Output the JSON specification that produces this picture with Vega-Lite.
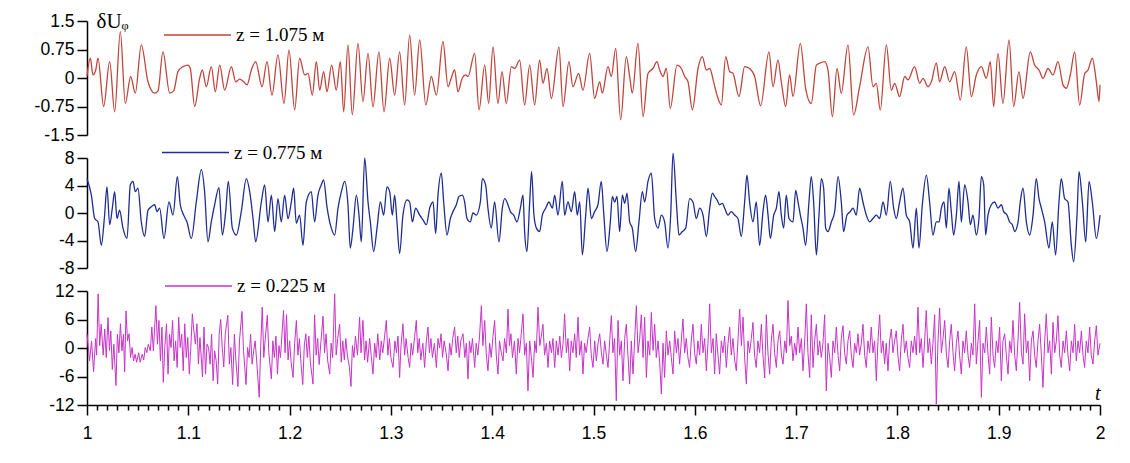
{
  "$schema": "https://vega.github.io/schema/vega-lite/v6.json",
  "padding": {"left": 34, "top": 0, "right": 10, "bottom": 5},
  "spacing": 23,
  "bounds": "flush",
  "datasets": {
    "red": [
      {"t":1.0,"v":0.05},{"t":1.0033,"v":0.52},{"t":1.0059,"v":0.08},{"t":1.0086,"v":0.21},{"t":1.0109,"v":0.52},{"t":1.0164,"v":-0.75},{"t":1.0224,"v":0.43},{"t":1.0273,"v":-0.89},{"t":1.0329,"v":1.22},{"t":1.0378,"v":-0.67},
      {"t":1.0431,"v":0.04},{"t":1.0477,"v":-0.4},{"t":1.0536,"v":0.87},{"t":1.0602,"v":-0.1},{"t":1.0668,"v":-0.4},{"t":1.0701,"v":-0.34},{"t":1.075,"v":0.69},{"t":1.0816,"v":-0.4},{"t":1.0856,"v":-0.34},{"t":1.0898,"v":0.17},
      {"t":1.0948,"v":0.3},{"t":1.0997,"v":0.34},{"t":1.102,"v":0.25},{"t":1.1063,"v":-0.75},{"t":1.1112,"v":-0.01},{"t":1.1138,"v":0.21},{"t":1.1178,"v":-0.23},{"t":1.1227,"v":0.3},{"t":1.1267,"v":-0.36},{"t":1.131,"v":0.34},
      {"t":1.1359,"v":-0.32},{"t":1.1425,"v":0.3},{"t":1.1468,"v":-0.1},{"t":1.1507,"v":-0.03},{"t":1.1547,"v":-0.1},{"t":1.158,"v":-0.18},{"t":1.1622,"v":0.21},{"t":1.1665,"v":0.43},{"t":1.1728,"v":-0.23},{"t":1.1777,"v":0.43},
      {"t":1.1826,"v":-0.45},{"t":1.1885,"v":0.61},{"t":1.1945,"v":-0.67},{"t":1.1994,"v":0.74},{"t":1.205,"v":-0.84},{"t":1.2099,"v":0.52},{"t":1.2149,"v":0.08},{"t":1.2182,"v":0.12},{"t":1.2224,"v":-0.45},{"t":1.2264,"v":0.43},
      {"t":1.2297,"v":-0.32},{"t":1.2336,"v":0.17},{"t":1.2369,"v":-0.36},{"t":1.2415,"v":0.34},{"t":1.2461,"v":-0.32},{"t":1.2501,"v":0.43},{"t":1.2534,"v":-0.89},{"t":1.2576,"v":0.87},{"t":1.2619,"v":-0.97},{"t":1.2675,"v":0.91},
      {"t":1.2724,"v":-0.62},{"t":1.2774,"v":0.65},{"t":1.2823,"v":-0.76},{"t":1.2882,"v":0.69},{"t":1.2932,"v":-0.89},{"t":1.2988,"v":0.52},{"t":1.3037,"v":-0.45},{"t":1.3086,"v":0.69},{"t":1.3136,"v":-0.71},{"t":1.3185,"v":1.13},
      {"t":1.3234,"v":-0.45},{"t":1.3284,"v":1.0},{"t":1.3345,"v":-0.71},{"t":1.3399,"v":0.04},{"t":1.3449,"v":-0.45},{"t":1.3514,"v":0.96},{"t":1.3564,"v":-0.23},{"t":1.3596,"v":0.0},{"t":1.3629,"v":0.21},{"t":1.3662,"v":-0.36},
      {"t":1.3705,"v":0.0},{"t":1.3738,"v":0.08},{"t":1.3761,"v":0.04},{"t":1.3827,"v":0.65},{"t":1.387,"v":-0.84},{"t":1.3926,"v":0.34},{"t":1.3965,"v":-0.67},{"t":1.4008,"v":0.82},{"t":1.4057,"v":-0.67},{"t":1.4097,"v":0.17},
      {"t":1.4139,"v":-0.67},{"t":1.4189,"v":0.3},{"t":1.4222,"v":0.25},{"t":1.4271,"v":0.47},{"t":1.432,"v":-0.71},{"t":1.437,"v":0.34},{"t":1.4419,"v":-0.71},{"t":1.4468,"v":0.47},{"t":1.4501,"v":-0.14},{"t":1.4541,"v":0.25},
      {"t":1.4584,"v":-0.54},{"t":1.4659,"v":0.82},{"t":1.4699,"v":-0.75},{"t":1.4758,"v":0.43},{"t":1.4797,"v":-0.23},{"t":1.4853,"v":0.12},{"t":1.4896,"v":-0.32},{"t":1.4962,"v":0.65},{"t":1.5011,"v":-0.54},{"t":1.5061,"v":-0.1},
      {"t":1.5087,"v":-0.4},{"t":1.5143,"v":0.3},{"t":1.5176,"v":0.04},{"t":1.5219,"v":0.78},{"t":1.5268,"v":-1.1},{"t":1.5324,"v":0.56},{"t":1.5357,"v":0.04},{"t":1.5383,"v":-0.4},{"t":1.5439,"v":0.91},{"t":1.5489,"v":-1.02},
      {"t":1.5538,"v":0.12},{"t":1.5587,"v":0.25},{"t":1.5627,"v":0.43},{"t":1.5653,"v":0.21},{"t":1.5686,"v":0.04},{"t":1.5719,"v":0.25},{"t":1.5758,"v":-0.8},{"t":1.5824,"v":0.34},{"t":1.5867,"v":0.25},{"t":1.59,"v":0.04},
      {"t":1.5933,"v":-0.1},{"t":1.5976,"v":-0.84},{"t":1.6032,"v":0.25},{"t":1.6074,"v":0.56},{"t":1.6114,"v":0.21},{"t":1.6147,"v":0.25},{"t":1.6186,"v":-0.1},{"t":1.6219,"v":-0.45},{"t":1.6262,"v":-0.71},{"t":1.6305,"v":0.56},
      {"t":1.6344,"v":0.17},{"t":1.6377,"v":0.12},{"t":1.6436,"v":-0.49},{"t":1.6492,"v":0.3},{"t":1.6541,"v":0.25},{"t":1.6591,"v":0.04},{"t":1.665,"v":-0.73},{"t":1.6732,"v":0.69},{"t":1.6772,"v":-0.23},{"t":1.6821,"v":0.47},
      {"t":1.6854,"v":-0.1},{"t":1.6897,"v":-0.75},{"t":1.6936,"v":0.08},{"t":1.6969,"v":-0.49},{"t":1.7042,"v":0.91},{"t":1.7094,"v":-0.27},{"t":1.715,"v":-0.67},{"t":1.72,"v":0.34},{"t":1.7233,"v":0.39},{"t":1.7282,"v":0.43},
      {"t":1.7315,"v":0.21},{"t":1.7358,"v":-1.02},{"t":1.7404,"v":0.25},{"t":1.7446,"v":-0.4},{"t":1.7512,"v":0.87},{"t":1.7568,"v":-0.97},{"t":1.7627,"v":-0.23},{"t":1.771,"v":0.82},{"t":1.7759,"v":-0.23},{"t":1.7792,"v":-0.14},
      {"t":1.7831,"v":-0.84},{"t":1.7891,"v":0.87},{"t":1.794,"v":-0.32},{"t":1.7973,"v":-0.14},{"t":1.8022,"v":-0.49},{"t":1.8072,"v":0.04},{"t":1.8104,"v":-0.05},{"t":1.817,"v":0.3},{"t":1.822,"v":-0.14},{"t":1.8253,"v":-0.01},
      {"t":1.8302,"v":-0.23},{"t":1.8335,"v":-0.1},{"t":1.8384,"v":0.4},{"t":1.8417,"v":-0.1},{"t":1.8467,"v":0.3},{"t":1.8516,"v":-0.1},{"t":1.8565,"v":0.17},{"t":1.8621,"v":-0.58},{"t":1.868,"v":0.82},{"t":1.873,"v":-0.49},
      {"t":1.8779,"v":0.08},{"t":1.8829,"v":0.3},{"t":1.8878,"v":-0.01},{"t":1.8917,"v":0.43},{"t":1.895,"v":-0.75},{"t":1.8993,"v":0.65},{"t":1.9042,"v":-0.67},{"t":1.9102,"v":1.0},{"t":1.9148,"v":-0.75},{"t":1.92,"v":0.17},
      {"t":1.924,"v":-0.54},{"t":1.9312,"v":0.69},{"t":1.9355,"v":0.34},{"t":1.9398,"v":0.21},{"t":1.9437,"v":-0.01},{"t":1.9487,"v":0.25},{"t":1.9536,"v":0.08},{"t":1.9585,"v":0.43},{"t":1.9635,"v":-0.18},{"t":1.9668,"v":-0.27},
      {"t":1.9707,"v":0.08},{"t":1.975,"v":0.69},{"t":1.9799,"v":-0.71},{"t":1.9849,"v":0.12},{"t":1.9882,"v":0.21},{"t":1.9924,"v":0.52},{"t":1.9964,"v":-0.1},{"t":1.999,"v":-0.62},{"t":2.0,"v":-0.18}
    ],
    "blue": [
      {"t":1.0,"v":5.0},{"t":1.0043,"v":2.6},{"t":1.0076,"v":-0.8},{"t":1.0109,"v":-1.3},{"t":1.0141,"v":-4.7},{"t":1.0174,"v":-0.3},{"t":1.0197,"v":3.8},{"t":1.0224,"v":-1.7},{"t":1.025,"v":0.7},{"t":1.0273,"v":3.1},
      {"t":1.0296,"v":-0.8},{"t":1.0322,"v":0.4},{"t":1.0355,"v":-2.2},{"t":1.0395,"v":-3.7},{"t":1.0428,"v":4.1},{"t":1.0454,"v":4.6},{"t":1.0477,"v":3.1},{"t":1.0503,"v":3.6},{"t":1.0536,"v":-1.3},{"t":1.0569,"v":-3.4},
      {"t":1.0602,"v":0.4},{"t":1.0635,"v":0.9},{"t":1.0668,"v":1.2},{"t":1.0691,"v":0.2},{"t":1.0717,"v":0.7},{"t":1.076,"v":-3.7},{"t":1.0809,"v":1.6},{"t":1.0849,"v":-0.3},{"t":1.0892,"v":5.3},{"t":1.0921,"v":1.2},
      {"t":1.0954,"v":-0.3},{"t":1.0987,"v":-1.3},{"t":1.103,"v":-3.7},{"t":1.1079,"v":1.6},{"t":1.1129,"v":6.3},{"t":1.1161,"v":3.1},{"t":1.1194,"v":-4.2},{"t":1.1227,"v":-1.3},{"t":1.126,"v":1.2},{"t":1.1303,"v":3.7},
      {"t":1.1336,"v":-3.2},{"t":1.1369,"v":0.2},{"t":1.1395,"v":4.6},{"t":1.1435,"v":-2.2},{"t":1.1474,"v":-3.2},{"t":1.1523,"v":0.2},{"t":1.1573,"v":5.0},{"t":1.1606,"v":3.1},{"t":1.1639,"v":-0.8},{"t":1.1665,"v":-4.2},
      {"t":1.1721,"v":1.6},{"t":1.1754,"v":4.1},{"t":1.1787,"v":-1.3},{"t":1.182,"v":2.6},{"t":1.1853,"v":-2.7},{"t":1.1885,"v":2.1},{"t":1.1918,"v":-1.3},{"t":1.1951,"v":2.6},{"t":1.1984,"v":-0.8},{"t":1.2017,"v":1.6},
      {"t":1.204,"v":3.6},{"t":1.2066,"v":-1.5},{"t":1.2099,"v":-0.3},{"t":1.2132,"v":-4.7},{"t":1.2165,"v":1.6},{"t":1.2214,"v":3.1},{"t":1.2247,"v":-1.3},{"t":1.228,"v":2.6},{"t":1.2313,"v":4.1},{"t":1.2336,"v":4.8},
      {"t":1.2369,"v":0.9},{"t":1.2412,"v":-2.2},{"t":1.2445,"v":-3.2},{"t":1.2478,"v":0.7},{"t":1.2511,"v":3.1},{"t":1.2544,"v":4.6},{"t":1.2576,"v":1.2},{"t":1.2599,"v":-5.1},{"t":1.2626,"v":-2.2},{"t":1.2659,"v":2.6},
      {"t":1.2685,"v":-0.3},{"t":1.2708,"v":-4.2},{"t":1.2741,"v":8.0},{"t":1.2774,"v":1.6},{"t":1.2797,"v":-1.3},{"t":1.283,"v":-5.6},{"t":1.2863,"v":-2.2},{"t":1.2896,"v":1.6},{"t":1.2929,"v":-0.3},{"t":1.2961,"v":3.8},
      {"t":1.2988,"v":3.1},{"t":1.3014,"v":-0.3},{"t":1.3037,"v":2.6},{"t":1.306,"v":-1.3},{"t":1.3086,"v":-5.9},{"t":1.3119,"v":-0.3},{"t":1.3159,"v":1.9},{"t":1.3185,"v":1.6},{"t":1.3212,"v":-1.3},{"t":1.3244,"v":0.7},
      {"t":1.3284,"v":-0.3},{"t":1.3317,"v":-1.0},{"t":1.335,"v":-1.7},{"t":1.3383,"v":0.7},{"t":1.3416,"v":1.6},{"t":1.3442,"v":-3.0},{"t":1.3465,"v":2.6},{"t":1.3498,"v":5.8},{"t":1.3521,"v":1.6},{"t":1.3554,"v":-3.2},
      {"t":1.3587,"v":-0.8},{"t":1.3613,"v":0.2},{"t":1.3646,"v":1.2},{"t":1.3672,"v":2.4},{"t":1.3705,"v":2.6},{"t":1.3728,"v":1.6},{"t":1.3751,"v":-0.8},{"t":1.3784,"v":-1.3},{"t":1.381,"v":0.0},{"t":1.3843,"v":-0.3},
      {"t":1.3883,"v":1.6},{"t":1.3903,"v":5.0},{"t":1.3935,"v":4.1},{"t":1.3958,"v":0.7},{"t":1.3991,"v":-2.2},{"t":1.4024,"v":1.6},{"t":1.4067,"v":-4.2},{"t":1.41,"v":0.7},{"t":1.4123,"v":2.1},{"t":1.4156,"v":1.2},
      {"t":1.4179,"v":0.2},{"t":1.4212,"v":-0.3},{"t":1.4245,"v":-1.3},{"t":1.4278,"v":0.7},{"t":1.4304,"v":2.6},{"t":1.432,"v":-2.7},{"t":1.4343,"v":-5.6},{"t":1.437,"v":1.6},{"t":1.4389,"v":6.0},{"t":1.4412,"v":-0.3},
      {"t":1.4436,"v":-2.2},{"t":1.4468,"v":-2.7},{"t":1.4495,"v":-0.3},{"t":1.4528,"v":0.7},{"t":1.4561,"v":1.6},{"t":1.4594,"v":0.7},{"t":1.4617,"v":2.6},{"t":1.4649,"v":-0.3},{"t":1.4692,"v":4.6},{"t":1.4715,"v":-0.3},
      {"t":1.4748,"v":1.6},{"t":1.4781,"v":0.2},{"t":1.4814,"v":3.1},{"t":1.484,"v":-0.3},{"t":1.4864,"v":1.6},{"t":1.489,"v":-6.1},{"t":1.4923,"v":-0.3},{"t":1.4946,"v":3.6},{"t":1.4979,"v":-0.8},{"t":1.5011,"v":0.2},
      {"t":1.5044,"v":1.2},{"t":1.5077,"v":4.6},{"t":1.51,"v":0.2},{"t":1.5133,"v":-5.6},{"t":1.5166,"v":-1.3},{"t":1.5186,"v":2.4},{"t":1.5209,"v":1.6},{"t":1.5232,"v":2.4},{"t":1.5258,"v":-2.7},{"t":1.5285,"v":2.6},
      {"t":1.5308,"v":1.4},{"t":1.5331,"v":2.9},{"t":1.5357,"v":-1.3},{"t":1.5383,"v":-2.2},{"t":1.5416,"v":-5.6},{"t":1.5449,"v":-1.3},{"t":1.5482,"v":3.1},{"t":1.5505,"v":1.6},{"t":1.5538,"v":4.6},{"t":1.5571,"v":5.8},
      {"t":1.5604,"v":-0.8},{"t":1.5637,"v":-2.2},{"t":1.567,"v":-0.3},{"t":1.5702,"v":-1.3},{"t":1.5735,"v":-5.1},{"t":1.5762,"v":-0.3},{"t":1.5785,"v":8.7},{"t":1.5818,"v":1.6},{"t":1.5844,"v":-3.2},{"t":1.5877,"v":-2.7},
      {"t":1.591,"v":-2.2},{"t":1.5949,"v":2.1},{"t":1.5982,"v":1.6},{"t":1.6015,"v":-0.8},{"t":1.6048,"v":0.7},{"t":1.6081,"v":-0.3},{"t":1.6114,"v":-3.4},{"t":1.6147,"v":0.7},{"t":1.6173,"v":2.9},{"t":1.6196,"v":2.4},
      {"t":1.6219,"v":1.9},{"t":1.6245,"v":1.2},{"t":1.6272,"v":1.4},{"t":1.6295,"v":0.7},{"t":1.6328,"v":-0.3},{"t":1.636,"v":0.2},{"t":1.6393,"v":-0.3},{"t":1.6426,"v":-0.8},{"t":1.6459,"v":-3.4},{"t":1.6492,"v":1.6},
      {"t":1.6515,"v":5.5},{"t":1.6541,"v":1.6},{"t":1.6574,"v":-1.3},{"t":1.6607,"v":1.6},{"t":1.664,"v":-4.7},{"t":1.6673,"v":0.2},{"t":1.6699,"v":2.6},{"t":1.6723,"v":-0.3},{"t":1.6746,"v":-3.7},{"t":1.6779,"v":-0.3},
      {"t":1.6805,"v":0.7},{"t":1.6831,"v":3.1},{"t":1.6854,"v":-0.3},{"t":1.6877,"v":-2.2},{"t":1.6903,"v":2.6},{"t":1.693,"v":-0.8},{"t":1.6969,"v":-1.3},{"t":1.6996,"v":3.3},{"t":1.7019,"v":1.6},{"t":1.7042,"v":-0.3},
      {"t":1.7068,"v":-2.2},{"t":1.7094,"v":-4.7},{"t":1.7127,"v":1.6},{"t":1.715,"v":5.3},{"t":1.7173,"v":1.6},{"t":1.72,"v":-6.1},{"t":1.7226,"v":-0.3},{"t":1.7249,"v":5.0},{"t":1.7272,"v":3.6},{"t":1.7292,"v":-2.2},
      {"t":1.7315,"v":-2.7},{"t":1.7348,"v":-1.3},{"t":1.7381,"v":0.2},{"t":1.7414,"v":5.3},{"t":1.7446,"v":1.6},{"t":1.7469,"v":-2.7},{"t":1.7502,"v":-0.3},{"t":1.7535,"v":0.2},{"t":1.7562,"v":0.7},{"t":1.7594,"v":-0.3},
      {"t":1.7627,"v":3.6},{"t":1.766,"v":1.6},{"t":1.7693,"v":-0.3},{"t":1.7726,"v":-1.3},{"t":1.7759,"v":-0.8},{"t":1.7792,"v":-0.3},{"t":1.7825,"v":-0.8},{"t":1.7858,"v":1.6},{"t":1.7891,"v":-0.3},{"t":1.793,"v":4.6},
      {"t":1.7963,"v":0.7},{"t":1.7989,"v":-0.8},{"t":1.8022,"v":1.6},{"t":1.8055,"v":3.6},{"t":1.8088,"v":-0.3},{"t":1.8121,"v":-1.3},{"t":1.8154,"v":-5.1},{"t":1.8187,"v":0.7},{"t":1.8213,"v":-5.1},{"t":1.8246,"v":1.2},
      {"t":1.8286,"v":5.5},{"t":1.8318,"v":1.6},{"t":1.8351,"v":-3.2},{"t":1.8384,"v":-1.3},{"t":1.8411,"v":-1.3},{"t":1.8434,"v":0.7},{"t":1.846,"v":1.6},{"t":1.8483,"v":-2.2},{"t":1.8509,"v":3.6},{"t":1.8532,"v":0.2},
      {"t":1.8555,"v":-3.2},{"t":1.8582,"v":-0.3},{"t":1.8608,"v":4.6},{"t":1.8631,"v":-1.3},{"t":1.8664,"v":4.1},{"t":1.8697,"v":1.6},{"t":1.872,"v":-1.7},{"t":1.8746,"v":-0.3},{"t":1.8779,"v":-3.2},{"t":1.8805,"v":-0.8},
      {"t":1.8829,"v":5.3},{"t":1.8852,"v":4.1},{"t":1.8871,"v":-3.2},{"t":1.8894,"v":-0.3},{"t":1.8927,"v":1.2},{"t":1.896,"v":1.6},{"t":1.8993,"v":0.7},{"t":1.9026,"v":1.2},{"t":1.9049,"v":0.2},{"t":1.9082,"v":-0.3},
      {"t":1.9108,"v":-1.3},{"t":1.9135,"v":-1.7},{"t":1.9158,"v":-2.7},{"t":1.9191,"v":-1.3},{"t":1.9213,"v":1.6},{"t":1.924,"v":3.6},{"t":1.9273,"v":-1.3},{"t":1.9306,"v":-3.2},{"t":1.9339,"v":-0.3},{"t":1.9371,"v":5.0},
      {"t":1.9398,"v":2.1},{"t":1.9421,"v":0.7},{"t":1.9454,"v":-1.3},{"t":1.9496,"v":-5.1},{"t":1.9529,"v":-1.3},{"t":1.9562,"v":-6.1},{"t":1.9595,"v":1.6},{"t":1.9618,"v":5.0},{"t":1.9651,"v":2.1},{"t":1.9684,"v":1.6},
      {"t":1.9717,"v":-4.7},{"t":1.974,"v":-7.1},{"t":1.9773,"v":-0.3},{"t":1.9793,"v":6.0},{"t":1.9826,"v":1.6},{"t":1.9859,"v":-4.2},{"t":1.9892,"v":4.6},{"t":1.9924,"v":1.6},{"t":1.9964,"v":-3.7},{"t":2.0,"v":-0.3}
    ],
    "mag": [
      {"t":1.0,"v":3.0},{"t":1.0025,"v":-2.7},{"t":1.0045,"v":1.5},{"t":1.0065,"v":-5.0},{"t":1.0085,"v":2.0},{"t":1.0095,"v":-1.5},{"t":1.011,"v":11.4},{"t":1.0125,"v":0.5},{"t":1.014,"v":5.0},{"t":1.016,"v":-1.5},
      {"t":1.0175,"v":4.0},{"t":1.019,"v":-2.0},{"t":1.0207,"v":6.4},{"t":1.0222,"v":-0.5},{"t":1.0235,"v":3.6},{"t":1.025,"v":-4.5},{"t":1.0265,"v":0.8},{"t":1.0286,"v":-7.9},{"t":1.03,"v":2.9},{"t":1.0315,"v":-1.0},
      {"t":1.033,"v":5.1},{"t":1.0345,"v":-0.6},{"t":1.036,"v":2.9},{"t":1.0372,"v":-5.0},{"t":1.0385,"v":7.8},{"t":1.04,"v":1.5},{"t":1.0415,"v":3.0},{"t":1.043,"v":-2.0},{"t":1.0445,"v":0.1},{"t":1.046,"v":-2.7},
      {"t":1.0475,"v":-1.3},{"t":1.049,"v":-3.0},{"t":1.051,"v":-1.0},{"t":1.0525,"v":-3.0},{"t":1.0545,"v":-1.3},{"t":1.056,"v":-2.5},{"t":1.0575,"v":0.1},{"t":1.059,"v":-1.0},{"t":1.0605,"v":0.8},{"t":1.0625,"v":-0.6},
      {"t":1.064,"v":4.4},{"t":1.0655,"v":-0.6},{"t":1.068,"v":8.9},{"t":1.0695,"v":0.8},{"t":1.071,"v":5.8},{"t":1.0725,"v":-2.7},{"t":1.074,"v":4.4},{"t":1.0753,"v":-7.2},{"t":1.0768,"v":0.1},{"t":1.0785,"v":5.1},
      {"t":1.08,"v":-5.5},{"t":1.0815,"v":2.9},{"t":1.083,"v":0.1},{"t":1.0845,"v":5.8},{"t":1.086,"v":-2.7},{"t":1.0875,"v":1.5},{"t":1.089,"v":-4.1},{"t":1.0905,"v":6.5},{"t":1.092,"v":0.1},{"t":1.0935,"v":2.9},
      {"t":1.095,"v":-4.8},{"t":1.0965,"v":5.1},{"t":1.098,"v":-2.0},{"t":1.0995,"v":2.2},{"t":1.101,"v":-5.5},{"t":1.1025,"v":0.1},{"t":1.104,"v":7.2},{"t":1.1055,"v":3.6},{"t":1.107,"v":0.8},{"t":1.1085,"v":5.1},
      {"t":1.11,"v":-3.4},{"t":1.1115,"v":2.2},{"t":1.114,"v":-6.1},{"t":1.1155,"v":4.4},{"t":1.117,"v":-5.5},{"t":1.1185,"v":0.8},{"t":1.12,"v":0.1},{"t":1.1215,"v":-3.4},{"t":1.123,"v":2.9},{"t":1.1245,"v":-6.9},
      {"t":1.126,"v":-0.6},{"t":1.1275,"v":-2.7},{"t":1.129,"v":-7.6},{"t":1.1305,"v":2.9},{"t":1.132,"v":6.0},{"t":1.1335,"v":0.1},{"t":1.135,"v":-4.0},{"t":1.1365,"v":3.0},{"t":1.139,"v":6.9},{"t":1.1405,"v":-3.4},
      {"t":1.142,"v":0.1},{"t":1.1438,"v":-7.7},{"t":1.1455,"v":2.9},{"t":1.147,"v":-2.7},{"t":1.149,"v":-8.1},{"t":1.1505,"v":1.5},{"t":1.153,"v":7.7},{"t":1.1545,"v":-0.5},{"t":1.157,"v":-7.7},{"t":1.1585,"v":0.1},
      {"t":1.16,"v":-2.0},{"t":1.1615,"v":2.9},{"t":1.163,"v":-3.4},{"t":1.1645,"v":-0.6},{"t":1.166,"v":1.5},{"t":1.1675,"v":-2.7},{"t":1.17,"v":-10.4},{"t":1.1715,"v":0.5},{"t":1.173,"v":8.6},{"t":1.1745,"v":-2.0},
      {"t":1.176,"v":2.0},{"t":1.178,"v":6.9},{"t":1.1795,"v":-1.0},{"t":1.182,"v":-6.5},{"t":1.1835,"v":1.5},{"t":1.185,"v":-2.0},{"t":1.1865,"v":2.5},{"t":1.188,"v":-5.5},{"t":1.1895,"v":0.5},{"t":1.191,"v":-2.0},
      {"t":1.1925,"v":3.0},{"t":1.194,"v":7.9},{"t":1.1955,"v":-1.0},{"t":1.197,"v":7.0},{"t":1.1985,"v":-2.5},{"t":1.2,"v":1.5},{"t":1.2015,"v":-3.0},{"t":1.2034,"v":-6.2},{"t":1.205,"v":1.0},{"t":1.2067,"v":5.8},
      {"t":1.2082,"v":-1.5},{"t":1.2097,"v":2.0},{"t":1.2113,"v":-3.5},{"t":1.213,"v":-7.7},{"t":1.2145,"v":0.5},{"t":1.216,"v":3.0},{"t":1.2175,"v":-2.0},{"t":1.219,"v":2.5},{"t":1.2205,"v":-3.0},{"t":1.2231,"v":-7.6},
      {"t":1.2247,"v":7.0},{"t":1.2262,"v":-1.5},{"t":1.2277,"v":2.0},{"t":1.2292,"v":-3.5},{"t":1.231,"v":1.5},{"t":1.233,"v":6.7},{"t":1.2345,"v":-1.0},{"t":1.236,"v":3.0},{"t":1.2375,"v":-2.5},{"t":1.2396,"v":-5.5},
      {"t":1.241,"v":1.0},{"t":1.2425,"v":-2.0},{"t":1.2445,"v":11.4},{"t":1.246,"v":-1.5},{"t":1.2475,"v":2.0},{"t":1.2494,"v":5.0},{"t":1.251,"v":-3.0},{"t":1.2525,"v":1.5},{"t":1.254,"v":-2.5},{"t":1.2555,"v":2.0},
      {"t":1.257,"v":-1.5},{"t":1.259,"v":-4.0},{"t":1.2606,"v":-8.1},{"t":1.262,"v":0.5},{"t":1.2635,"v":-2.0},{"t":1.265,"v":2.5},{"t":1.267,"v":-1.5},{"t":1.2691,"v":6.5},{"t":1.2705,"v":-1.0},{"t":1.2724,"v":5.8},
      {"t":1.274,"v":-2.5},{"t":1.2755,"v":1.5},{"t":1.277,"v":-3.0},{"t":1.279,"v":2.0},{"t":1.2805,"v":-1.5},{"t":1.2823,"v":-5.5},{"t":1.284,"v":1.0},{"t":1.2855,"v":-2.0},{"t":1.287,"v":3.0},{"t":1.289,"v":-2.5},
      {"t":1.2905,"v":1.5},{"t":1.292,"v":-1.0},{"t":1.2955,"v":5.8},{"t":1.297,"v":-1.5},{"t":1.2985,"v":2.0},{"t":1.3,"v":-2.0},{"t":1.3021,"v":-4.1},{"t":1.304,"v":1.5},{"t":1.3055,"v":-1.0},{"t":1.307,"v":2.5},
      {"t":1.3086,"v":-6.2},{"t":1.31,"v":0.5},{"t":1.3119,"v":5.1},{"t":1.3135,"v":-1.5},{"t":1.315,"v":2.0},{"t":1.317,"v":-2.0},{"t":1.3185,"v":-4.1},{"t":1.32,"v":1.0},{"t":1.3215,"v":-1.5},{"t":1.3235,"v":2.5},
      {"t":1.3251,"v":5.8},{"t":1.3265,"v":-1.0},{"t":1.328,"v":2.0},{"t":1.3295,"v":-2.5},{"t":1.3315,"v":1.0},{"t":1.3333,"v":-4.1},{"t":1.335,"v":1.5},{"t":1.3366,"v":4.4},{"t":1.338,"v":-1.0},{"t":1.3395,"v":2.0},
      {"t":1.341,"v":-2.0},{"t":1.343,"v":1.0},{"t":1.3449,"v":-4.1},{"t":1.3465,"v":2.0},{"t":1.348,"v":0.0},{"t":1.3495,"v":3.0},{"t":1.351,"v":-2.0},{"t":1.3525,"v":1.5},{"t":1.3545,"v":-1.0},{"t":1.3564,"v":-4.8},
      {"t":1.358,"v":1.0},{"t":1.3595,"v":-1.5},{"t":1.361,"v":2.0},{"t":1.3629,"v":4.4},{"t":1.3645,"v":-1.0},{"t":1.366,"v":2.5},{"t":1.3675,"v":-2.0},{"t":1.369,"v":1.5},{"t":1.3712,"v":3.0},{"t":1.373,"v":-2.0},
      {"t":1.3745,"v":1.0},{"t":1.3761,"v":-6.5},{"t":1.3775,"v":1.5},{"t":1.379,"v":-1.0},{"t":1.3805,"v":2.0},{"t":1.3827,"v":-4.1},{"t":1.3842,"v":1.0},{"t":1.3858,"v":-1.5},{"t":1.3875,"v":2.5},{"t":1.3893,"v":8.9},
      {"t":1.3908,"v":0.5},{"t":1.3926,"v":5.8},{"t":1.3942,"v":-1.5},{"t":1.3958,"v":-4.8},{"t":1.3975,"v":1.0},{"t":1.399,"v":-2.0},{"t":1.4008,"v":2.5},{"t":1.4024,"v":5.8},{"t":1.404,"v":-1.5},{"t":1.4057,"v":-5.5},
      {"t":1.4072,"v":1.5},{"t":1.409,"v":-1.0},{"t":1.4107,"v":-2.7},{"t":1.4122,"v":2.0},{"t":1.414,"v":-1.0},{"t":1.4156,"v":8.2},{"t":1.417,"v":0.5},{"t":1.4185,"v":3.0},{"t":1.42,"v":-2.0},{"t":1.422,"v":1.5},
      {"t":1.4238,"v":-5.5},{"t":1.4255,"v":2.0},{"t":1.427,"v":-1.0},{"t":1.4287,"v":3.0},{"t":1.4304,"v":7.2},{"t":1.432,"v":-1.5},{"t":1.4337,"v":1.0},{"t":1.4353,"v":-9.0},{"t":1.437,"v":1.5},{"t":1.4387,"v":-2.0},
      {"t":1.4403,"v":-6.2},{"t":1.442,"v":1.5},{"t":1.4435,"v":-1.0},{"t":1.4452,"v":8.6},{"t":1.447,"v":0.5},{"t":1.4485,"v":2.5},{"t":1.4501,"v":5.0},{"t":1.4517,"v":-1.5},{"t":1.4535,"v":1.0},{"t":1.4551,"v":-4.1},
      {"t":1.4567,"v":1.5},{"t":1.4585,"v":-1.0},{"t":1.46,"v":2.0},{"t":1.4617,"v":-4.1},{"t":1.4633,"v":1.5},{"t":1.465,"v":-1.5},{"t":1.4667,"v":2.5},{"t":1.4683,"v":-2.0},{"t":1.47,"v":1.0},{"t":1.4715,"v":7.2},
      {"t":1.4732,"v":-1.0},{"t":1.4748,"v":2.0},{"t":1.4765,"v":-4.8},{"t":1.478,"v":1.5},{"t":1.4797,"v":-1.0},{"t":1.4814,"v":3.0},{"t":1.483,"v":-2.0},{"t":1.4847,"v":6.5},{"t":1.4863,"v":-1.5},{"t":1.488,"v":1.5},
      {"t":1.4896,"v":-5.5},{"t":1.4912,"v":1.0},{"t":1.4928,"v":-1.0},{"t":1.4945,"v":2.0},{"t":1.4962,"v":4.4},{"t":1.4978,"v":-1.5},{"t":1.4995,"v":-4.1},{"t":1.5012,"v":1.5},{"t":1.5028,"v":-2.7},{"t":1.5045,"v":1.0},
      {"t":1.5061,"v":3.0},{"t":1.5078,"v":-1.0},{"t":1.5094,"v":-3.4},{"t":1.511,"v":1.5},{"t":1.5127,"v":-1.5},{"t":1.5143,"v":-4.1},{"t":1.516,"v":1.5},{"t":1.5176,"v":6.8},{"t":1.5192,"v":-1.0},{"t":1.5208,"v":2.0},
      {"t":1.5225,"v":-11.1},{"t":1.5242,"v":5.8},{"t":1.5258,"v":-1.5},{"t":1.5275,"v":1.5},{"t":1.5291,"v":-6.9},{"t":1.5308,"v":2.0},{"t":1.5324,"v":5.0},{"t":1.534,"v":-1.5},{"t":1.5357,"v":-7.6},{"t":1.5373,"v":1.5},
      {"t":1.539,"v":-5.5},{"t":1.5407,"v":2.0},{"t":1.5423,"v":8.9},{"t":1.544,"v":-1.0},{"t":1.5456,"v":2.0},{"t":1.5472,"v":7.0},{"t":1.5489,"v":-2.0},{"t":1.5505,"v":6.5},{"t":1.5522,"v":-6.2},{"t":1.5538,"v":1.5},
      {"t":1.5555,"v":-1.5},{"t":1.5571,"v":7.5},{"t":1.5588,"v":-0.5},{"t":1.5604,"v":5.0},{"t":1.562,"v":-2.0},{"t":1.5637,"v":1.5},{"t":1.5653,"v":-3.0},{"t":1.567,"v":-9.7},{"t":1.5686,"v":1.0},{"t":1.5702,"v":-6.2},
      {"t":1.5719,"v":3.6},{"t":1.5735,"v":-1.5},{"t":1.5752,"v":1.5},{"t":1.5768,"v":-2.0},{"t":1.5785,"v":-5.5},{"t":1.5801,"v":3.6},{"t":1.5818,"v":-1.0},{"t":1.5834,"v":2.0},{"t":1.585,"v":-3.4},{"t":1.5867,"v":1.5},
      {"t":1.5883,"v":6.1},{"t":1.59,"v":-1.0},{"t":1.5916,"v":2.0},{"t":1.5932,"v":-2.0},{"t":1.5949,"v":-4.1},{"t":1.5965,"v":1.5},{"t":1.5982,"v":5.0},{"t":1.5998,"v":-1.0},{"t":1.6015,"v":-3.4},{"t":1.6031,"v":1.5},
      {"t":1.6048,"v":-1.5},{"t":1.6064,"v":5.0},{"t":1.6081,"v":-1.0},{"t":1.6097,"v":2.0},{"t":1.6114,"v":-4.8},{"t":1.613,"v":1.0},{"t":1.6147,"v":9.3},{"t":1.6163,"v":-1.0},{"t":1.618,"v":2.0},{"t":1.6196,"v":-5.5},
      {"t":1.6212,"v":3.0},{"t":1.6229,"v":-1.5},{"t":1.6245,"v":-5.5},{"t":1.6262,"v":1.5},{"t":1.6278,"v":-1.0},{"t":1.6295,"v":2.5},{"t":1.6311,"v":-4.1},{"t":1.6328,"v":1.0},{"t":1.6344,"v":4.4},{"t":1.636,"v":-1.5},
      {"t":1.6377,"v":2.0},{"t":1.6393,"v":-2.5},{"t":1.641,"v":-4.8},{"t":1.6427,"v":2.0},{"t":1.6443,"v":8.2},{"t":1.646,"v":0.5},{"t":1.6476,"v":6.5},{"t":1.6492,"v":-2.0},{"t":1.6509,"v":-7.6},{"t":1.6525,"v":1.5},
      {"t":1.6541,"v":-1.0},{"t":1.6558,"v":2.0},{"t":1.6574,"v":5.4},{"t":1.659,"v":-1.5},{"t":1.6607,"v":-4.1},{"t":1.6623,"v":1.5},{"t":1.664,"v":-1.0},{"t":1.6657,"v":5.0},{"t":1.6673,"v":-1.5},{"t":1.669,"v":-6.3},
      {"t":1.6706,"v":7.0},{"t":1.6722,"v":-1.0},{"t":1.6739,"v":-5.5},{"t":1.6755,"v":1.5},{"t":1.6772,"v":5.0},{"t":1.6788,"v":-1.0},{"t":1.6805,"v":-4.1},{"t":1.6821,"v":1.5},{"t":1.6838,"v":3.6},{"t":1.6855,"v":-1.5},
      {"t":1.6871,"v":-3.4},{"t":1.6888,"v":1.5},{"t":1.6904,"v":-1.0},{"t":1.692,"v":10.0},{"t":1.6937,"v":0.5},{"t":1.6953,"v":2.5},{"t":1.6969,"v":-2.7},{"t":1.6986,"v":1.0},{"t":1.7002,"v":-1.5},{"t":1.7019,"v":4.4},
      {"t":1.7035,"v":-1.0},{"t":1.7052,"v":2.0},{"t":1.7068,"v":-4.8},{"t":1.7085,"v":1.5},{"t":1.7101,"v":9.3},{"t":1.7117,"v":-1.0},{"t":1.7134,"v":-6.2},{"t":1.715,"v":7.0},{"t":1.7167,"v":-4.1},{"t":1.7183,"v":1.5},
      {"t":1.72,"v":5.0},{"t":1.7216,"v":-1.5},{"t":1.7233,"v":1.5},{"t":1.7249,"v":-2.0},{"t":1.7265,"v":1.0},{"t":1.7282,"v":7.0},{"t":1.7298,"v":-9.0},{"t":1.7315,"v":1.0},{"t":1.7331,"v":-2.0},{"t":1.7348,"v":-6.2},
      {"t":1.7364,"v":1.5},{"t":1.7381,"v":-1.0},{"t":1.7397,"v":4.4},{"t":1.7414,"v":-1.5},{"t":1.743,"v":-4.8},{"t":1.7446,"v":2.0},{"t":1.7463,"v":4.7},{"t":1.7479,"v":-1.0},{"t":1.7496,"v":-3.4},{"t":1.7512,"v":1.5},
      {"t":1.7529,"v":3.6},{"t":1.7545,"v":-1.5},{"t":1.7562,"v":-4.1},{"t":1.7578,"v":1.0},{"t":1.7595,"v":-1.0},{"t":1.7611,"v":3.0},{"t":1.7627,"v":-1.5},{"t":1.7644,"v":1.0},{"t":1.766,"v":5.0},{"t":1.7677,"v":-1.5},
      {"t":1.7693,"v":-4.1},{"t":1.7709,"v":1.5},{"t":1.7726,"v":-1.0},{"t":1.7742,"v":4.4},{"t":1.7759,"v":-1.0},{"t":1.7775,"v":1.5},{"t":1.7792,"v":-6.9},{"t":1.7808,"v":1.5},{"t":1.7825,"v":7.0},{"t":1.7841,"v":-1.0},
      {"t":1.7858,"v":1.5},{"t":1.7874,"v":-3.4},{"t":1.789,"v":1.0},{"t":1.7907,"v":-4.8},{"t":1.7923,"v":1.5},{"t":1.794,"v":4.0},{"t":1.7956,"v":-1.0},{"t":1.7973,"v":1.5},{"t":1.7989,"v":3.6},{"t":1.8005,"v":-1.5},
      {"t":1.8022,"v":-4.8},{"t":1.8038,"v":1.5},{"t":1.8055,"v":5.0},{"t":1.8071,"v":-1.0},{"t":1.8088,"v":1.5},{"t":1.8104,"v":-2.0},{"t":1.8121,"v":-4.1},{"t":1.8137,"v":1.5},{"t":1.8154,"v":-1.0},{"t":1.817,"v":2.5},
      {"t":1.8187,"v":-1.5},{"t":1.8203,"v":8.6},{"t":1.822,"v":-1.0},{"t":1.8236,"v":2.0},{"t":1.8253,"v":-4.1},{"t":1.8269,"v":1.5},{"t":1.8285,"v":7.9},{"t":1.8302,"v":-1.0},{"t":1.8318,"v":2.0},{"t":1.8335,"v":-3.4},
      {"t":1.8351,"v":1.0},{"t":1.8368,"v":7.0},{"t":1.8384,"v":-11.8},{"t":1.84,"v":1.0},{"t":1.8417,"v":8.4},{"t":1.8434,"v":-1.0},{"t":1.845,"v":2.0},{"t":1.8467,"v":5.8},{"t":1.8484,"v":-1.5},{"t":1.85,"v":-4.1},
      {"t":1.8516,"v":1.5},{"t":1.8532,"v":5.0},{"t":1.8549,"v":-1.0},{"t":1.8565,"v":-4.8},{"t":1.8582,"v":1.0},{"t":1.8598,"v":3.6},{"t":1.8614,"v":-1.5},{"t":1.8631,"v":-5.5},{"t":1.8647,"v":1.5},{"t":1.8664,"v":-1.0},
      {"t":1.868,"v":3.6},{"t":1.8697,"v":-1.5},{"t":1.8713,"v":-4.1},{"t":1.873,"v":1.0},{"t":1.8746,"v":-1.5},{"t":1.8763,"v":9.3},{"t":1.8779,"v":-3.4},{"t":1.8796,"v":1.5},{"t":1.8812,"v":5.8},{"t":1.8829,"v":-10.4},
      {"t":1.8845,"v":1.0},{"t":1.8862,"v":-1.0},{"t":1.8878,"v":4.4},{"t":1.8895,"v":-1.5},{"t":1.8911,"v":-5.5},{"t":1.8927,"v":6.5},{"t":1.8944,"v":-1.5},{"t":1.896,"v":-4.1},{"t":1.8977,"v":1.5},{"t":1.8993,"v":-1.0},
      {"t":1.9009,"v":4.4},{"t":1.9026,"v":-6.9},{"t":1.9042,"v":1.5},{"t":1.9059,"v":3.0},{"t":1.9075,"v":-1.5},{"t":1.9092,"v":-5.5},{"t":1.9108,"v":1.5},{"t":1.9125,"v":-1.0},{"t":1.9141,"v":5.8},{"t":1.9158,"v":-1.5},
      {"t":1.9174,"v":-4.8},{"t":1.919,"v":1.5},{"t":1.9207,"v":9.6},{"t":1.9224,"v":-1.0},{"t":1.924,"v":-3.4},{"t":1.9256,"v":7.2},{"t":1.9273,"v":-1.0},{"t":1.9289,"v":1.5},{"t":1.9306,"v":-6.9},{"t":1.9322,"v":1.5},
      {"t":1.9339,"v":3.6},{"t":1.9355,"v":-1.5},{"t":1.9371,"v":-4.1},{"t":1.9388,"v":1.5},{"t":1.9404,"v":5.0},{"t":1.9421,"v":-1.5},{"t":1.9437,"v":-8.3},{"t":1.9454,"v":1.5},{"t":1.947,"v":7.2},{"t":1.9487,"v":-1.0},
      {"t":1.9503,"v":1.5},{"t":1.952,"v":-5.5},{"t":1.9536,"v":5.4},{"t":1.9553,"v":-1.0},{"t":1.9569,"v":1.5},{"t":1.9585,"v":6.8},{"t":1.9602,"v":-1.5},{"t":1.9618,"v":-4.1},{"t":1.9635,"v":1.5},{"t":1.9651,"v":-1.0},
      {"t":1.9668,"v":3.6},{"t":1.9684,"v":-1.5},{"t":1.9701,"v":-4.8},{"t":1.9717,"v":1.5},{"t":1.9734,"v":-1.0},{"t":1.975,"v":5.0},{"t":1.9766,"v":-2.7},{"t":1.9783,"v":1.5},{"t":1.9799,"v":-1.0},{"t":1.9816,"v":3.6},
      {"t":1.9832,"v":-1.5},{"t":1.9848,"v":-4.1},{"t":1.9865,"v":1.5},{"t":1.9881,"v":-1.0},{"t":1.9898,"v":4.4},{"t":1.9914,"v":-1.5},{"t":1.9931,"v":-3.4},{"t":1.9947,"v":1.5},{"t":1.9964,"v":4.7},{"t":1.998,"v":-1.5},
      {"t":2.0,"v":1.0}
    ]
  },
  "vconcat": [
    {
      "width": 1013,
      "height": 114,
      "data": {"name": "red"},
      "mark": {"type": "line", "interpolate": "monotone", "strokeWidth": 1.3},
      "encoding": {
        "x": {"field": "t", "type": "quantitative", "scale": {"domain": [1, 2], "nice": false}, "axis": null},
        "y": {
          "field": "v", "type": "quantitative",
          "scale": {"domain": [-1.5, 1.5], "nice": false, "zero": false},
          "axis": {"values": [-1.5, -0.75, 0, 0.75, 1.5], "title": "δUᵩ", "titleAngle": 0, "titleX": 9, "titleY": 6, "titleAlign": "left", "titleBaseline": "alphabetic", "titleFont": "Liberation Serif, DejaVu Serif", "titleFontSize": 21, "titleFontWeight": "normal"}
        },
        "color": {
          "datum": "z = 1.075 м",
          "scale": {"range": ["#c0453c"]},
          "legend": {"orient": "none", "legendX": 76, "legendY": -20.5}
        }
      }
    },
    {
      "width": 1013,
      "height": 110,
      "data": {"name": "blue"},
      "mark": {"type": "line", "interpolate": "monotone", "strokeWidth": 1.3},
      "encoding": {
        "x": {"field": "t", "type": "quantitative", "scale": {"domain": [1, 2], "nice": false}, "axis": null},
        "y": {
          "field": "v", "type": "quantitative",
          "scale": {"domain": [-8, 8], "nice": false, "zero": false},
          "axis": {"values": [-8, -4, 0, 4, 8], "title": null}
        },
        "color": {
          "datum": "z = 0.775 м",
          "scale": {"range": ["#1f2d93"]},
          "legend": {"orient": "none", "legendX": 74, "legendY": -40}
        }
      }
    },
    {
      "width": 1013,
      "height": 114,
      "data": {"name": "mag"},
      "mark": {"type": "line", "interpolate": "linear", "strokeWidth": 1},
      "encoding": {
        "x": {
          "field": "t", "type": "quantitative", "scale": {"domain": [1, 2], "nice": false},
          "axis": {
            "tickCount": 100,
            "labelExpr": "round(datum.value*100) % 10 == 0 ? toString(datum.value) : ''",
            "tickSize": {"condition": {"test": "round(datum.value*100) % 10 == 0", "value": 10}, "value": 5},
            "labelOverlap": false,
            "labelFlush": false,
            "labelPadding": 9,
            "title": "t",
            "titleFont": "Liberation Serif",
            "titleFontStyle": "italic",
            "titleFontWeight": "normal",
            "titleFontSize": 20,
            "titleX": 1013,
            "titleY": -6,
            "titleAlign": "right",
            "titleBaseline": "alphabetic"
          }
        },
        "y": {
          "field": "v", "type": "quantitative",
          "scale": {"domain": [-12, 12], "nice": false, "zero": false},
          "axis": {"values": [-12, -6, 0, 6, 12], "title": null}
        },
        "color": {
          "datum": "z = 0.225 м",
          "scale": {"range": ["#c833c8"]},
          "legend": {"orient": "none", "legendX": 77, "legendY": -39.5}
        }
      }
    }
  ],
  "resolve": {"scale": {"color": "independent", "x": "independent", "y": "independent"}, "legend": {"color": "independent"}},
  "config": {
    "view": {"stroke": null},
    "axis": {
      "grid": false,
      "domainColor": "#000000",
      "domainWidth": 1.5,
      "tickColor": "#000000",
      "tickWidth": 1.5,
      "labelColor": "#000000",
      "labelFont": "Liberation Sans",
      "labelFontSize": 17.5,
      "titleColor": "#000000"
    },
    "axisY": {"tickSize": 10, "labelPadding": 3, "labelExpr": "toString(datum.value)"},
    "legend": {
      "title": null,
      "symbolType": "stroke",
      "symbolSize": 4489,
      "symbolStrokeWidth": 1.6,
      "labelFont": "Liberation Serif",
      "labelFontSize": 19,
      "labelColor": "#000000",
      "labelOffset": 4,
      "padding": 0
    }
  }
}
